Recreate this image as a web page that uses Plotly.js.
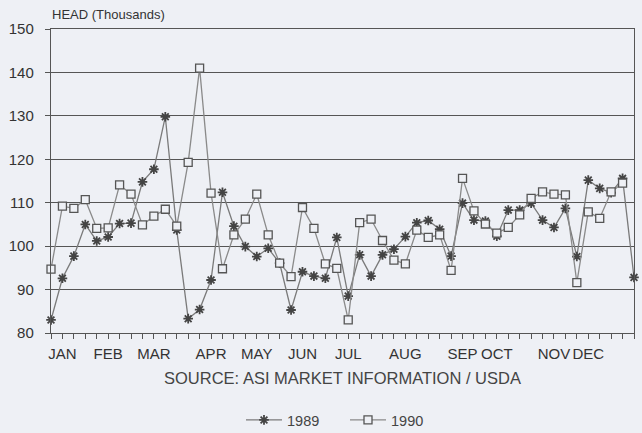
<!DOCTYPE html>
<html>
<head>
<meta charset="utf-8">
<script src="https://cdn.plot.ly/plotly-3.0.1.min.js"></script>
<style>
  html, body { margin: 0; padding: 0; background: #eef0f5; }
  #chart { width: 642px; height: 433px; }
</style>
</head>
<body>
<div id="chart"></div>
<script>
// Week numbers (weekly data, 52 weeks)
const weeks = [1,2,3,4,5,6,7,8,9,10,11,12,13,14,15,16,17,18,19,20,21,22,23,24,25,26,
               27,28,29,30,31,32,33,34,35,36,37,38,39,40,41,42,43,44,45,46,47,48,49,50,51,52];

// Slaughter, head (thousands)
const head1989 = [83.0, 92.6, 97.7, 105.0, 101.2, 102.1, 105.2, 105.3, 114.8, 117.7,
                  129.8, 103.7, 83.3, 85.4, 92.2, 112.4, 104.6, 99.9, 97.6, 99.5,
                  96.1, 85.3, 94.1, 93.1, 92.6, 102.0, 88.5, 98.0, 93.1, 98.0,
                  99.3, 102.2, 105.4, 105.9, 103.9, 97.7, 109.9, 106.0, 105.8, 102.3,
                  108.3, 108.3, 109.9, 106.0, 104.3, 108.7, 97.6, 115.2, 113.3, 112.3,
                  115.6, 92.8];

const head1990 = [94.7, 109.2, 108.7, 110.7, 104.1, 104.2, 114.1, 112.0, 104.9, 106.9,
                  108.5, 104.6, 119.3, 141.0, 112.2, 94.8, 102.6, 106.2, 112.0, 102.6,
                  96.1, 93.0, 108.9, 104.1, 95.9, 94.9, 83.0, 105.4, 106.2, 101.3,
                  96.8, 95.9, 103.7, 102.0, 102.6, 94.4, 115.6, 108.1, 105.1, 103.0,
                  104.3, 107.2, 111.0, 112.5, 112.0, 111.8, 91.6, 107.9, 106.4, 112.5,
                  114.5, null];

// Tick label for each week (month name under the week it is printed at)
const weekLabels = ['', 'JAN', '', '', '', 'FEB', '', '', '', 'MAR',
                    '', '', '', '', 'APR', '', '', '', 'MAY', '',
                    '', '', 'JUN', '', '', '', 'JUL', '', '', '',
                    '', 'AUG', '', '', '', '', 'SEP', '', '', 'OCT',
                    '', '', '', '', 'NOV', '', '', 'DEC', '', '',
                    '', ''];

const yTicks = [80, 90, 100, 110, 120, 130, 140, 150];

const FONT = 'Liberation Sans, Arial, Helvetica, sans-serif';
const BG = '#eef0f5';

const traces = [
  {
    x: weeks, y: head1989, name: '1989', type: 'scatter', mode: 'lines+markers',
    line: { color: '#7a7a7a', width: 1.3 },
    marker: { symbol: 'asterisk-open', size: 8, color: '#444', line: { color: '#444', width: 1.8 } },
    cliponaxis: false
  },
  {
    x: weeks, y: head1990, name: '1990', type: 'scatter', mode: 'lines+markers',
    line: { color: '#8a8a8a', width: 1.3 },
    marker: { symbol: 'square', size: 8, color: BG, line: { color: '#555', width: 1.3 } },
    cliponaxis: false, connectgaps: false
  }
];

const layout = {
  width: 642, height: 433,
  paper_bgcolor: BG, plot_bgcolor: BG,
  margin: { l: 51, r: 8, t: 29, b: 100, pad: 0 },
  font: { family: FONT, color: '#333', size: 13 },
  title: {
    text: 'HEAD (Thousands)',
    xref: 'container', yref: 'container',
    x: 52 / 642, xanchor: 'left',
    y: 1 - 14 / 433, yanchor: 'middle',
    font: { family: FONT, size: 13, color: '#333' }
  },
  xaxis: {
    range: [1, 52],
    tickmode: 'array', tickvals: weeks, ticktext: weekLabels,
    tickangle: 0,
    ticks: 'outside', ticklen: 5, tickcolor: '#555', tickwidth: 1,
    showgrid: false, zeroline: false,
    showline: true, linecolor: '#555', linewidth: 1.2, mirror: true,
    ticklabelstandoff: 2,
    tickfont: { family: FONT, size: 15, color: '#333' },
    title: { text: 'SOURCE: ASI MARKET INFORMATION / USDA', standoff: 11,
             font: { family: FONT, size: 16.5, color: '#444' } }
  },
  yaxis: {
    range: [80, 150],
    tickmode: 'array', tickvals: yTicks,
    ticks: 'outside', ticklen: 5, tickcolor: '#555',
    showgrid: true, gridcolor: '#555', gridwidth: 1,
    zeroline: false,
    showline: true, linecolor: '#555', linewidth: 1.2, mirror: true,
    ticklabelstandoff: 8,
    tickfont: { family: FONT, size: 15, color: '#333' }
  },
  showlegend: true,
  legend: {
    orientation: 'h', traceorder: 'normal',
    xref: 'container', yref: 'container',
    x: 241 / 642, xanchor: 'left',
    y: 1 - 420 / 433, yanchor: 'middle',
    bgcolor: 'rgba(0,0,0,0)',
    font: { family: FONT, size: 14.5, color: '#444' },
    entrywidth: 53, entrywidthmode: 'pixels',
    itemwidth: 36
  }
};

Plotly.newPlot('chart', traces, layout, { displayModeBar: false, staticPlot: true });
</script>
</body>
</html>
